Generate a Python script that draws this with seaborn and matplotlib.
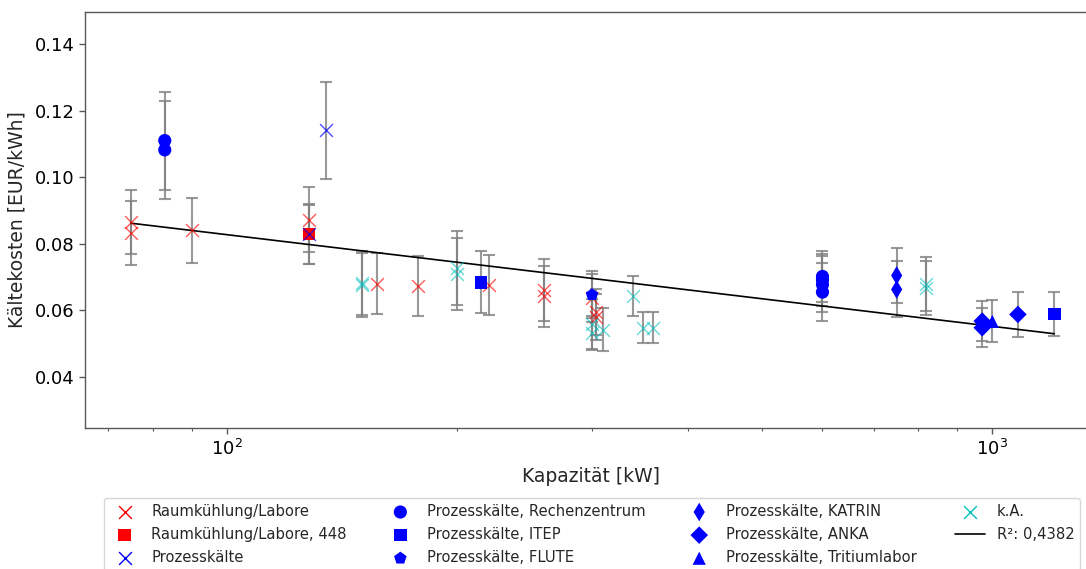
import numpy as np
import pandas as pd
import matplotlib
matplotlib.use("Agg")
import matplotlib.pyplot as plt
import seaborn as sns
from matplotlib.ticker import FormatStrFormatter

# ---------------- data ----------------
raum_x = [75, 75, 90, 128, 157, 178, 220, 260, 260, 300, 304, 304]
raum_y = [0.0865, 0.0832, 0.0840, 0.0872, 0.0680, 0.0673, 0.0675, 0.0661, 0.0642, 0.0637, 0.0595, 0.0580]
raum_err = [0.0096, 0.0096, 0.0098, 0.0098, 0.0091, 0.0090, 0.0090, 0.0093, 0.0092, 0.0072, 0.0070, 0.0070]

r448_x = [128]
r448_y = [0.0830]
r448_err = [0.0090]

proz_x = [128, 135]
proz_y = [0.0828, 0.1141]
proz_err = [0.0090, 0.0145]

rz_x = [83, 83, 600, 600, 600, 600]
rz_y = [0.1110, 0.1082, 0.0702, 0.0692, 0.0678, 0.0655]
rz_err = [0.0147, 0.0147, 0.0076, 0.0078, 0.0084, 0.0088]

itep_x = [215, 1205]
itep_y = [0.0684, 0.0590]
itep_err = [0.0093, 0.0066]

flute_x = [300]
flute_y = [0.0647]
flute_err = [0.0070]

katrin_x = [750, 750]
katrin_y = [0.0705, 0.0663]
katrin_err = [0.0082, 0.0084]

anka_x = [970, 970, 1080]
anka_y = [0.0568, 0.0548, 0.0588]
anka_err = [0.0060, 0.0058, 0.0068]

trit_x = [1000]
trit_y = [0.0567]
trit_err = [0.0063]

ka_x = [150, 150, 200, 200, 300, 300, 310, 339, 350, 360, 820, 820]
ka_y = [0.0682, 0.0676, 0.0727, 0.0708, 0.0558, 0.0532, 0.0542, 0.0643, 0.0548, 0.0548, 0.0680, 0.0666]
ka_err = [0.0096, 0.0096, 0.0112, 0.0108, 0.0075, 0.0052, 0.0065, 0.0060, 0.0047, 0.0047, 0.0081, 0.0081]

labels = ["Raumkühlung/Labore", "Raumkühlung/Labore, 448", "Prozesskälte",
          "Prozesskälte, Rechenzentrum", "Prozesskälte, ITEP", "Prozesskälte, FLUTE",
          "Prozesskälte, KATRIN", "Prozesskälte, ANKA", "Prozesskälte, Tritiumlabor",
          "k.A."]
fit_label = "R²: 0,4382"

x_label = "Kapazität [kW]"
y_label = "Kältekosten [EUR/kWh]"
y_ticks = [0.04, 0.06, 0.08, 0.10, 0.12, 0.14]

# ---------------- styles ----------------
data_sets = [
    (raum_x, raum_y, raum_err),
    (r448_x, r448_y, r448_err),
    (proz_x, proz_y, proz_err),
    (rz_x, rz_y, rz_err),
    (itep_x, itep_y, itep_err),
    (flute_x, flute_y, flute_err),
    (katrin_x, katrin_y, katrin_err),
    (anka_x, anka_y, anka_err),
    (trit_x, trit_y, trit_err),
    (ka_x, ka_y, ka_err),
]
styles = [
    dict(marker="x", color="#ff0000", alpha=0.65, s=85),
    dict(marker="s", color="#ff0000", alpha=1.0, s=80),
    dict(marker="x", color="#0000ff", alpha=0.7, s=85),
    dict(marker="o", color="#0000ff", alpha=1.0, s=90),
    dict(marker="s", color="#0000ff", alpha=1.0, s=80),
    dict(marker="p", color="#0000ff", alpha=1.0, s=90),
    dict(marker="d", color="#0000ff", alpha=1.0, s=90),
    dict(marker="D", color="#0000ff", alpha=1.0, s=80),
    dict(marker="^", color="#0000ff", alpha=1.0, s=90),
    dict(marker="x", color="#00bfbf", alpha=0.6, s=85),
]

sns.set_theme(style="ticks", rc={
    "axes.edgecolor": "0.35",
    "axes.linewidth": 1.0,
    "xtick.color": "0.35",
    "ytick.color": "0.35",
    "xtick.labelcolor": "black",
    "ytick.labelcolor": "black",
    "xtick.direction": "out",
    "ytick.direction": "out",
})
plt.rcParams["font.family"] = ["DejaVu Sans"]

fig = plt.figure(figsize=(10.86, 5.69), dpi=100)
ax = fig.add_axes([85 / 1086, 1 - 428 / 569, (1097 - 85) / 1086, (428 - 12) / 569])

handles = []
for (xs, ys, es), st, lab in zip(data_sets, styles, labels):
    ax.errorbar(xs, ys, yerr=es, fmt="none", ecolor="grey", alpha=0.8,
                elinewidth=1.5, capsize=4, capthick=1.5, zorder=1)
    df = pd.DataFrame({"x": xs, "y": ys})
    kw = dict(marker=st["marker"], color=st["color"], alpha=st["alpha"], s=st["s"], zorder=3, label=lab)
    if st["marker"] == "x":
        kw["linewidth"] = 1.0
    else:
        kw["edgecolor"] = "none"
        kw["linewidth"] = 0
    sns.scatterplot(data=df, x="x", y="y", ax=ax, legend=False, **kw)
    handles.append(ax.collections[-1])

# regression over all points (linear in log10 of capacity)
all_x = np.concatenate([np.asarray(d[0], float) for d in data_sets])
all_y = np.concatenate([np.asarray(d[1], float) for d in data_sets])
b, a = np.polyfit(np.log10(all_x), all_y, 1)
xf = np.array([all_x.min(), all_x.max()])
fit_df = pd.DataFrame({"x": xf, "y": a + b * np.log10(xf)})
sns.lineplot(data=fit_df, x="x", y="y", ax=ax, color="black", linewidth=1.2, zorder=2, label=fit_label, legend=False)
handles.append(ax.lines[-1])

ax.set_xscale("log")
ax.set_xlim(65.3, 1370)
ax.set_ylim(0.0247, 0.1496)
ax.set_yticks(y_ticks)
ax.yaxis.set_major_formatter(FormatStrFormatter("%.2f"))
ax.tick_params(axis="both", which="major", labelsize=13, length=4, width=1)
ax.tick_params(axis="x", which="minor", length=2.5, width=0.8)
ax.set_xlabel(x_label, fontsize=13.5, labelpad=6)
ax.set_ylabel(y_label, fontsize=13.5, labelpad=6)
for sp in ["top", "right", "left", "bottom"]:
    ax.spines[sp].set_visible(True)

leg = fig.legend(handles, labels + [fit_label], loc="upper left",
                 bbox_to_anchor=(104 / 1086, 1 - 498 / 569), bbox_transform=fig.transFigure,
                 ncol=4, fontsize=10.6, frameon=True, borderaxespad=0, fancybox=True,
                 edgecolor="0.8", framealpha=0.8, handlelength=2.0, columnspacing=2.65,
                 labelspacing=0.55)
for h in leg.legend_handles:
    try:
        h.set_alpha(None)
    except Exception:
        pass

fig.savefig("out.png", dpi=100)
